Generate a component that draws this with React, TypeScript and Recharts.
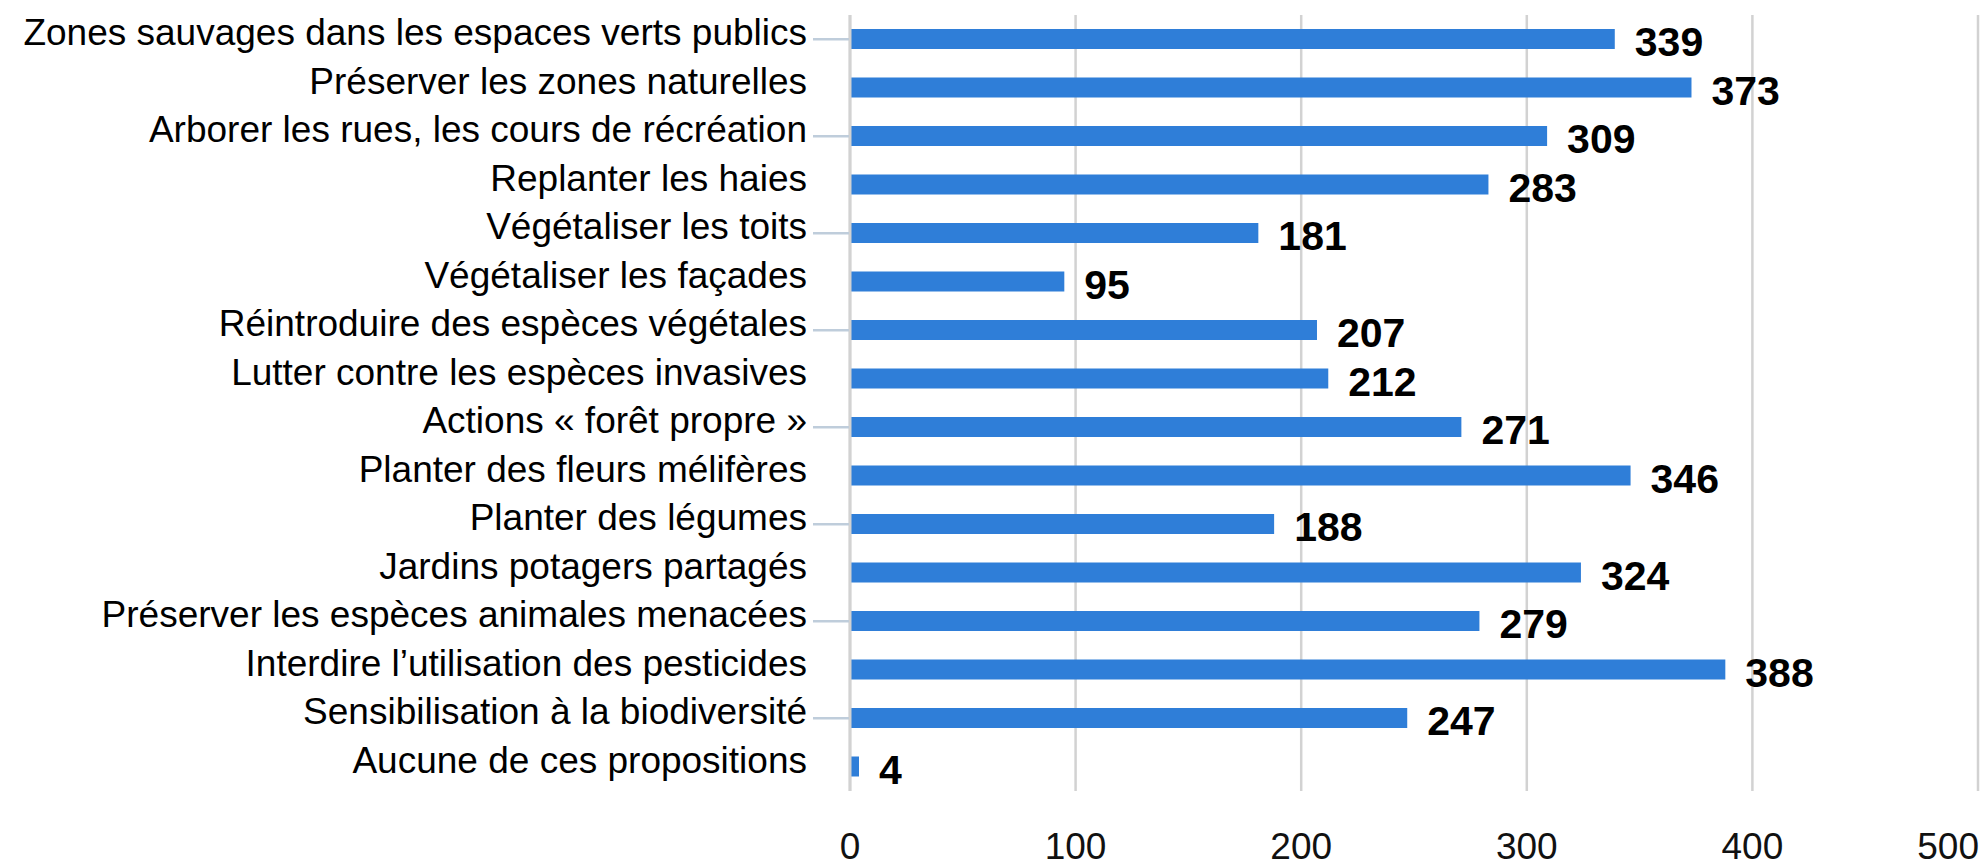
import React from 'react';
import { BarChart, Bar, XAxis, YAxis, CartesianGrid, LabelList } from 'recharts';

const categories = [
  'Zones sauvages dans les espaces verts publics',
  'Préserver les zones naturelles',
  'Arborer les rues, les cours de récréation',
  'Replanter les haies',
  'Végétaliser les toits',
  'Végétaliser les façades',
  'Réintroduire des espèces végétales',
  'Lutter contre les espèces invasives',
  'Actions « forêt propre »',
  'Planter des fleurs mélifères',
  'Planter des légumes',
  'Jardins potagers partagés',
  'Préserver les espèces animales menacées',
  'Interdire l’utilisation des pesticides',
  'Sensibilisation à la biodiversité',
  'Aucune de ces propositions',
];

const counts = [339, 373, 309, 283, 181, 95, 207, 212, 271, 346, 188, 324, 279, 388, 247, 4];

const xTicks = [0, 100, 200, 300, 400, 500];

const data = categories.map((name, i) => ({ name, value: counts[i] }));

const FONT = '"Liberation Sans", Arial, Helvetica, sans-serif';
const BAR_COLOR = '#2f7ed8';
const GRID_COLOR = '#d2d2d2';

function CategoryTick(props: any) {
  const { x, y, payload, index } = props;
  const i = typeof index === 'number' ? index : payload.index;
  return (
    <g>
      {i % 2 === 0 && (
        <line x1={x - 37} x2={x - 1} y1={y} y2={y} stroke="#bfcddb" strokeWidth={2.5} />
      )}
      <text x={x - 43} y={y + 6} textAnchor="end" fontSize={37} fontFamily={FONT} fill="#000">
        {payload.value}
      </text>
    </g>
  );
}

function ValueTick(props: any) {
  const { x, y, payload } = props;
  const last = payload.value === xTicks[xTicks.length - 1];
  return (
    <text
      x={last ? x + 1 : x}
      y={y}
      dy={68}
      textAnchor={last ? 'end' : 'middle'}
      fontSize={37}
      fontFamily={FONT}
      fill="#111"
    >
      {payload.value}
    </text>
  );
}

function ValueLabel(props: any) {
  const { x, y, width, height, value } = props;
  return (
    <text
      x={x + width + 20}
      y={y + height / 2 + 17}
      fontSize={41}
      fontWeight="bold"
      fontFamily={FONT}
      fill="#000"
    >
      {value}
    </text>
  );
}

export default function App() {
  return (
    <div style={{ position: 'absolute', left: 0, top: 0, width: 1983, height: 867, background: '#fff' }}>
      <BarChart
        width={1983}
        height={867}
        data={data}
        layout="vertical"
        margin={{ top: 15, right: 5, bottom: 0, left: 0 }}
        barSize={20}
      >
        <CartesianGrid horizontal={false} stroke={GRID_COLOR} strokeWidth={2.5} />
        <XAxis
          type="number"
          domain={[0, 500]}
          ticks={xTicks}
          axisLine={false}
          tickLine={false}
          tickSize={0}
          tickMargin={0}
          height={76}
          tick={<ValueTick />}
          interval={0}
        />
        <YAxis
          type="category"
          dataKey="name"
          width={850}
          axisLine={{ stroke: GRID_COLOR, strokeWidth: 3 }}
          tickLine={false}
          tickSize={0}
          tickMargin={0}
          interval={0}
          tick={<CategoryTick />}
        />
        <Bar dataKey="value" fill={BAR_COLOR} isAnimationActive={false}>
          <LabelList dataKey="value" content={<ValueLabel />} />
        </Bar>
      </BarChart>
    </div>
  );
}
